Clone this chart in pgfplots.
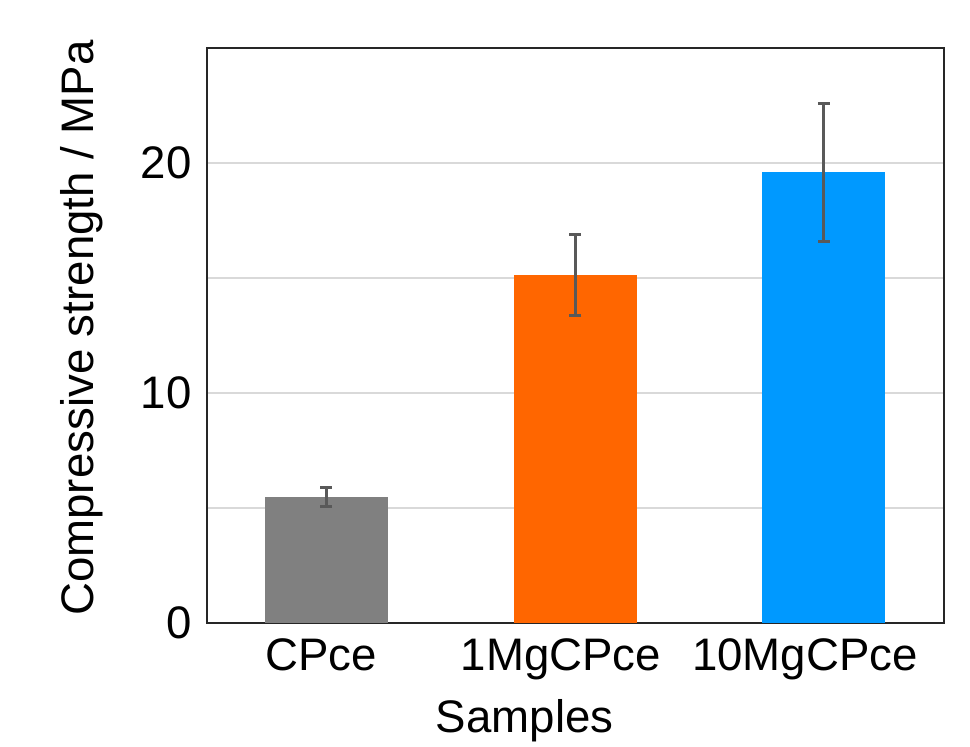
\documentclass[border=0pt]{standalone}
\usepackage{pgfplots}
\pgfplotsset{compat=1.18}
\usepackage{fontspec}
\setmainfont{Liberation Sans}
\definecolor{cgray}{HTML}{808080}
\definecolor{corange}{HTML}{FF6600}
\definecolor{cblue}{HTML}{0099FF}
\definecolor{errgray}{HTML}{595959}
\definecolor{gridgray}{HTML}{D9D9D9}
\definecolor{framec}{HTML}{262626}
\begin{document}
\fontsize{22.8}{27}\selectfont
\begin{tikzpicture}
\path[use as bounding box] (-103.5pt,-61.5pt) rectangle (381.5pt,311.5pt);
\begin{axis}[
  at={(0,0)}, anchor=south west,
  scale only axis,
  width=368.5pt, height=287.5pt,
  xmin=-0.478, xmax=2.482,
  ymin=0, ymax=25,
  xtick={-0.02,0.944,1.924},
  xticklabels={CPce,1MgCPce,10MgCPce},
  ytick={0,5,10,15,20},
  yticklabels={0,,10,,20},
  major tick length=0pt,
  ymajorgrids,
  grid style={gridgray, line width=0.75pt},
  axis line style={framec, line width=1.2pt},
  tick label style={font=\fontsize{22.8}{27}\selectfont},
  label style={font=\fontsize{22.8}{27}\selectfont},
  /pgf/number format/assume math mode=true,
  xlabel={Samples},
  ylabel={Compressive strength / MPa},
  xlabel style={at={(axis description cs:0.431,-0.19)}, anchor=base},
  ylabel style={at={(axis description cs:-0.17,0.513)}, anchor=center},
  ybar, bar width=0.494, bar shift=0pt,
  error bars/y dir=both, error bars/y explicit,
  error bars/error bar style={errgray, line width=1.5pt},
  error bars/error mark options={rotate=90, mark size=3pt, errgray, line width=1.5pt},
]
\addplot[fill=cgray, draw=none] coordinates {(0,5.48) +- (0,0.40)};
\addplot[fill=corange, draw=none] coordinates {(1,15.13) +- (0,1.74)};
\addplot[fill=cblue, draw=none] coordinates {(2,19.6) +- (0,3.0)};
\end{axis}
\end{tikzpicture}
\end{document}
